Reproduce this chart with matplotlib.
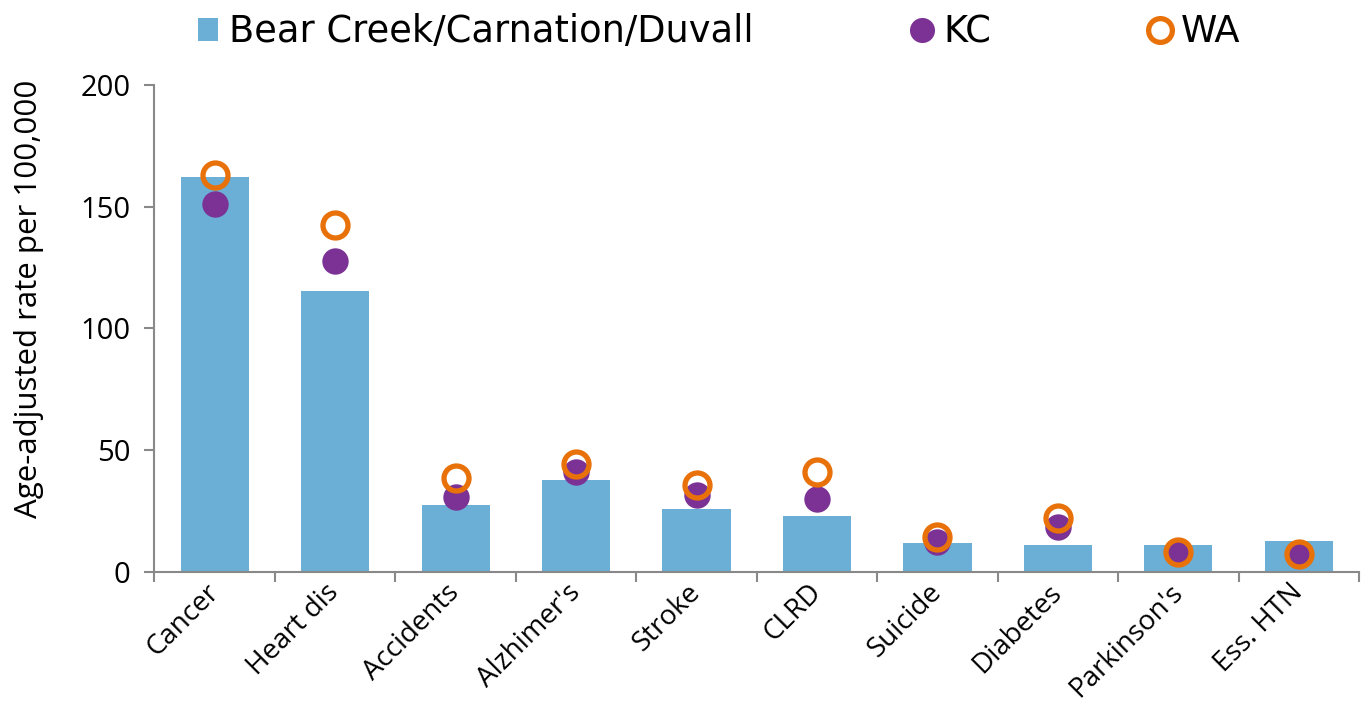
import matplotlib
matplotlib.use("Agg")
import matplotlib.pyplot as plt
import numpy as np

# causes of death, age-adjusted rate per 100,000
categorias = ["Cancer", "Heart dis", "Accidents", "Alzhimer's", "Stroke",
              "CLRD", "Suicide", "Diabetes", "Parkinson's", "Ess. HTN"]
bear_creek = [162.1, 115.4, 27.4, 37.7, 25.9, 22.8, 11.8, 11.0, 11.0, 12.6]
kc = [151.1, 127.7, 30.6, 40.9, 31.4, 29.9, 12.3, 18.2, 8.0, 7.2]
wa = [162.9, 142.6, 38.6, 44.1, 35.5, 41.0, 14.3, 22.0, 8.0, 7.2]

cor_barra = "#6baed6"
cor_kc = "#7b3294"
cor_wa = "#e8710a"
cinza = "#898989"

plt.rcParams["font.family"] = ["Open Sans", "DejaVu Sans"]

fig = plt.figure(figsize=(13.66, 7.07), dpi=100)
ax = fig.add_axes([0.113, 0.1914, 0.882, 0.6884])

x = np.arange(len(categorias))
barras = ax.bar(x, bear_creek, width=0.565, color=cor_barra,
                label="Bear Creek/Carnation/Duvall", zorder=2)
linha_kc, = ax.plot(x, kc, linestyle="none", marker="o", markersize=19, color=cor_kc,
                    markeredgewidth=0, label="KC", zorder=3)
linha_wa, = ax.plot(x, wa, linestyle="none", marker="o", markersize=18, markerfacecolor="none",
                    markeredgecolor=cor_wa, markeredgewidth=3.8, label="WA", zorder=4)

ax.set_xlim(-0.5, len(categorias) - 0.5)
ax.set_ylim(0, 200)
ax.set_yticks([0, 50, 100, 150, 200])

# ticks nas fronteiras das categorias
ax.set_xticks(x)
ax.set_xticklabels(categorias, rotation=45, ha="right", va="center",
                   rotation_mode="anchor", fontsize=20)
ax.set_xticks(np.arange(-0.5, len(categorias)), minor=True)
ax.tick_params(axis="x", which="major", length=0, pad=12)
ax.tick_params(axis="x", which="minor", length=7, width=1.5, color=cinza, direction="out")
ax.tick_params(axis="y", length=7, width=1.5, color=cinza, labelsize=21, pad=10)

for lado in ["top", "right"]:
    ax.spines[lado].set_visible(False)
for lado in ["left", "bottom"]:
    ax.spines[lado].set_color(cinza)
    ax.spines[lado].set_linewidth(1.5)

ax.set_ylabel("Age-adjusted rate per 100,000", fontsize=22.5)
ax.yaxis.set_label_coords(-0.092, 0.56)

leg = fig.legend(handles=[barras, linha_kc, linha_wa], loc="center left",
                 bbox_to_anchor=(0.145, 0.955), ncol=3, frameon=False,
                 borderpad=0, borderaxespad=0,
                 prop={"family": "DejaVu Sans", "size": 26.5},
                 handlelength=0.55, handleheight=0.6, handletextpad=0.3,
                 columnspacing=4.3, markerscale=0.95)

fig.savefig("out.png", dpi=100)
